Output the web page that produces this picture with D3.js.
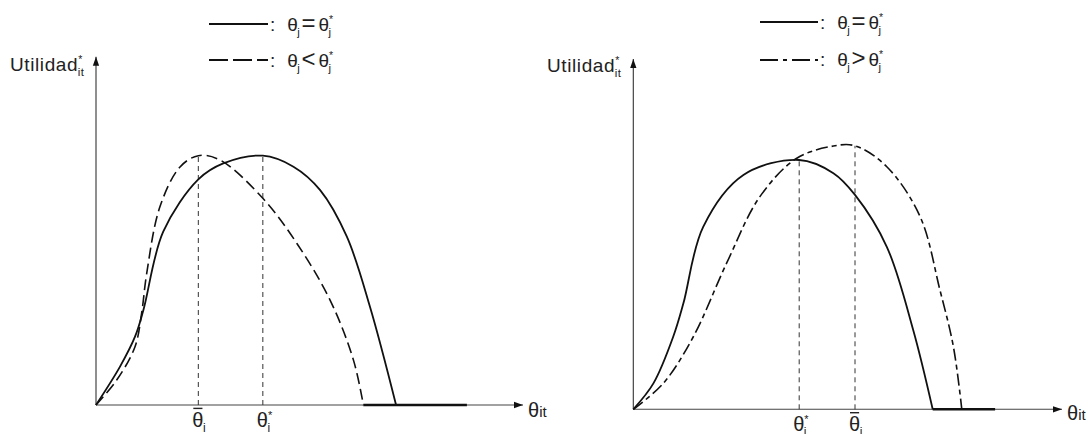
<!DOCTYPE html>
<html><head><meta charset="utf-8">
<script src="https://cdn.jsdelivr.net/npm/d3@7"></script>
<style>
html,body{margin:0;padding:0;background:#fff;}
svg{display:block;font-family:"Liberation Sans",Arial,Helvetica,sans-serif;}
</style></head>
<body>
<svg id="c" width="1088" height="434"></svg>
<script>
// ---- Data (abstract units) ----
// Left panel: θj = θj* (solid) vs θj < θj* (dashed)
const leftSolidX = [0, 0.8, 1.3, 1.58, 2.24, 3.41, 4.24, 5.56, 6.58, 7.47, 8.36, 9.13, 10];
const leftSolidY = [0, 1.54, 2.74, 3.81, 6.95, 9.05, 9.69, 10, 9.56, 8.62, 6.75, 3.94, 0];
const leftDashX = [0, 0.69, 1.3, 1.52, 1.69, 2.13, 2.8, 3.41, 4.13, 5.56, 6.69, 7.8, 8.58, 8.91];
const leftDashY = [0, 1.0, 2.34, 3.68, 5.28, 7.95, 9.55, 10, 9.83, 8.29, 6.49, 4.21, 1.8, 0];
const leftFlatX = [8.91, 12.36];
const leftMarks = [3.41, 5.56];           // θ̄i , θi*
const leftMarkLabels = ["bar", "star"];

// Right panel: θj = θj* (solid) vs θj > θj* (dash-dot)
const rightSolidX = [0, 0.67, 1.33, 1.67, 2.33, 3.67, 5.53, 6.67, 7.39, 8.45, 9.33, 9.98];
const rightSolidY = [0, 1.04, 2.91, 4.25, 7.32, 9.40, 10, 9.47, 8.60, 6.52, 3.18, 0];
const rightDashX = [0, 1, 2, 3.11, 4.22, 5.45, 6.67, 7.39, 8.45, 9.56, 10.22, 10.67, 10.95];
const rightDashY = [0, 1.04, 2.91, 5.86, 8.53, 10.07, 10.56, 10.57, 9.73, 7.73, 4.79, 2.51, 0];
const rightFlatX = [9.98, 12.06];
const rightMarks = [5.53, 7.39];          // θi* , θ̄i
const rightMarkLabels = ["star", "bar"];

const svg = d3.select("#c");
const INK = "#222";

// one <text> per expression; sub/sup stacked via tspans
function mathText(g, x, y, parts, size, opts = {}) {
  const t = g.append("text").attr("x", x).attr("y", y).attr("font-size", size).attr("fill", INK);
  if (opts.ls) t.attr("letter-spacing", opts.ls);
  const bars = [];
  let cursor = 0, pdx = 0, pdy = 0;
  parts.forEach(p => {
    const main = t.append("tspan").attr("font-size", p.size || size).text(p.t);
    const dx = pdx + (p.gap0 || 0);
    if (dx) main.attr("dx", dx);
    if (pdy) main.attr("dy", pdy);
    pdx = 0; pdy = 0;
    const mw = main.node().getComputedTextLength();
    if (p.bar) bars.push([cursor + dx, mw]);
    cursor += dx + mw;
    let curDy = 0;
    if (p.sub) {
      const s = t.append("tspan").attr("font-size", size * 0.6).attr("dx", -0.5)
        .attr("dy", size * 0.24).text(p.sub);
      const sw = s.node().getComputedTextLength();
      curDy += size * 0.24;
      cursor += sw - 0.5;
      if (p.sup) {
        const u = t.append("tspan").attr("font-size", size * 0.55).attr("dx", -sw + 0.5)
          .attr("dy", -size * 0.66).text(p.sup);
        const uw = u.node().getComputedTextLength();
        curDy -= size * 0.66;
        cursor += -sw + 0.5 + uw;
        if (uw < sw) { pdx += sw - uw; cursor += sw - uw; }
      }
    } else if (p.sup) {
      const u = t.append("tspan").attr("font-size", size * 0.55).attr("dy", -size * 0.42).text(p.sup);
      curDy -= size * 0.42;
      cursor += u.node().getComputedTextLength();
    }
    pdy = -curDy;
  });
  bars.forEach(([bx, bw]) => {
    g.append("line").attr("x1", x + bx + 1).attr("x2", x + bx + bw - 1)
      .attr("y1", y - size * 0.93).attr("y2", y - size * 0.93)
      .attr("stroke", INK).attr("stroke-width", 1.4);
  });
  return t;
}

svg.append("defs").append("marker")
  .attr("id", "arr").attr("viewBox", "0 0 10 10").attr("refX", 10).attr("refY", 5)
  .attr("markerWidth", 9).attr("markerHeight", 9).attr("markerUnits", "userSpaceOnUse")
  .attr("orient", "auto")
  .append("path").attr("d", "M0,1.5 L10,5 L0,8.5 Z").attr("fill", "#111");

function panel(cfg) {
  const g = svg.append("g");
  const x = d3.scaleLinear().domain(cfg.xDomain).range(cfg.xRange);
  const y = d3.scaleLinear().domain([0, 10]).range(cfg.yRange);
  const x0 = x(0), y0 = y(0);

  // axes
  g.append("line").attr("x1", x0).attr("y1", y0).attr("x2", x0).attr("y2", y(cfg.yTop))
    .attr("stroke", "#333").attr("stroke-width", 1.1).attr("marker-end", "url(#arr)");
  g.append("line").attr("x1", x0).attr("y1", y0).attr("x2", x(cfg.xDomain[1])).attr("y2", y0)
    .attr("stroke", "#444").attr("stroke-width", 1.1).attr("marker-end", "url(#arr)");

  // y label
  mathText(g, cfg.yLabelX, cfg.yLabelY, [{t: "Utilidad", sub: "it", sup: "*"}], 19, {ls: 0.6});

  // x label
  const xl = g.append("text").attr("x", x(cfg.xDomain[1]) + 5).attr("y", y0 + cfg.xLabelDy)
    .attr("font-size", 20).attr("fill", INK);
  xl.append("tspan").text("θ");
  xl.append("tspan").attr("font-size", 15).text("it");

  // vertical guide lines
  cfg.marks.forEach((m, i) => {
    g.append("line").attr("x1", x(m)).attr("x2", x(m)).attr("y1", y0).attr("y2", y(cfg.markTops[i]))
      .attr("stroke", "#333").attr("stroke-width", 1).attr("stroke-dasharray", "5,4");
  });
  cfg.marks.forEach((m, i) => {
    const kind = cfg.markLabels[i];
    const parts = kind === "bar" ? [{t: "θ", sub: "i", bar: true}] : [{t: "θ", sub: "i", sup: "*"}];
    mathText(g, x(m) - 6, y0 + cfg.tickDy, parts, 20);
  });

  const line = d3.line().x(d => x(d[0])).y(d => y(d[1])).curve(d3.curveCatmullRom.alpha(0.5));
  const solid = cfg.solidX.map((v, i) => [v, cfg.solidY[i]]);
  const dash = cfg.dashX.map((v, i) => [v, cfg.dashY[i]]);
  g.append("path").attr("d", line(solid)).attr("fill", "none").attr("stroke", "#111").attr("stroke-width", 1.8);
  g.append("path").attr("d", line(dash)).attr("fill", "none").attr("stroke", "#111")
    .attr("stroke-width", 1.6).attr("stroke-dasharray", cfg.dashPattern);
  g.append("line").attr("x1", x(cfg.flatX[0])).attr("x2", x(cfg.flatX[1])).attr("y1", y0).attr("y2", y0)
    .attr("stroke", "#111").attr("stroke-width", 2.6);

  // legend
  const L = cfg.legend;
  g.append("line").attr("x1", L.x).attr("x2", L.x + L.len).attr("y1", L.y1).attr("y2", L.y1)
    .attr("stroke", "#111").attr("stroke-width", 1.8);
  g.append("line").attr("x1", L.x).attr("x2", L.x + L.len).attr("y1", L.y2).attr("y2", L.y2)
    .attr("stroke", "#111").attr("stroke-width", 1.8).attr("stroke-dasharray", L.dash);
  [[L.b1, "="], [L.b2, cfg.rel]].forEach(([by, rel]) => {
    mathText(g, L.x + L.len + 2, by, [
      {t: ":"},
      {t: "θ", sub: "j", gap0: 12},
      {t: rel, gap0: 1.5, size: 24},
      {t: "θ", sub: "j", sup: "*", gap0: 3}
    ], 19);
  });
}

panel({
  xDomain: [0, 14.23], xRange: [96, 523], yRange: [405, 155.7], yTop: 13.97,
  solidX: leftSolidX, solidY: leftSolidY, dashX: leftDashX, dashY: leftDashY,
  flatX: leftFlatX, marks: leftMarks, markLabels: leftMarkLabels, markTops: [10, 10],
  dashPattern: "11,5", rel: "<",
  yLabelX: 10, yLabelY: 71, xLabelDy: 12, tickDy: 22,
  legend: {x: 209, len: 59, y1: 24, y2: 60, b1: 31, b2: 67, dash: "19,5"}
});
panel({
  xDomain: [0, 14.29], xRange: [633.3, 1062], yRange: [409.3, 160], yTop: 14.05,
  solidX: rightSolidX, solidY: rightSolidY, dashX: rightDashX, dashY: rightDashY,
  flatX: rightFlatX, marks: rightMarks, markLabels: rightMarkLabels, markTops: [10, 10.57],
  dashPattern: "12,4,5,4", rel: ">",
  yLabelX: 547, yLabelY: 72, xLabelDy: 11, tickDy: 22,
  legend: {x: 760, len: 58, y1: 22, y2: 60, b1: 29, b2: 66, dash: "18,5,4,5"}
});
</script>
</body></html>
